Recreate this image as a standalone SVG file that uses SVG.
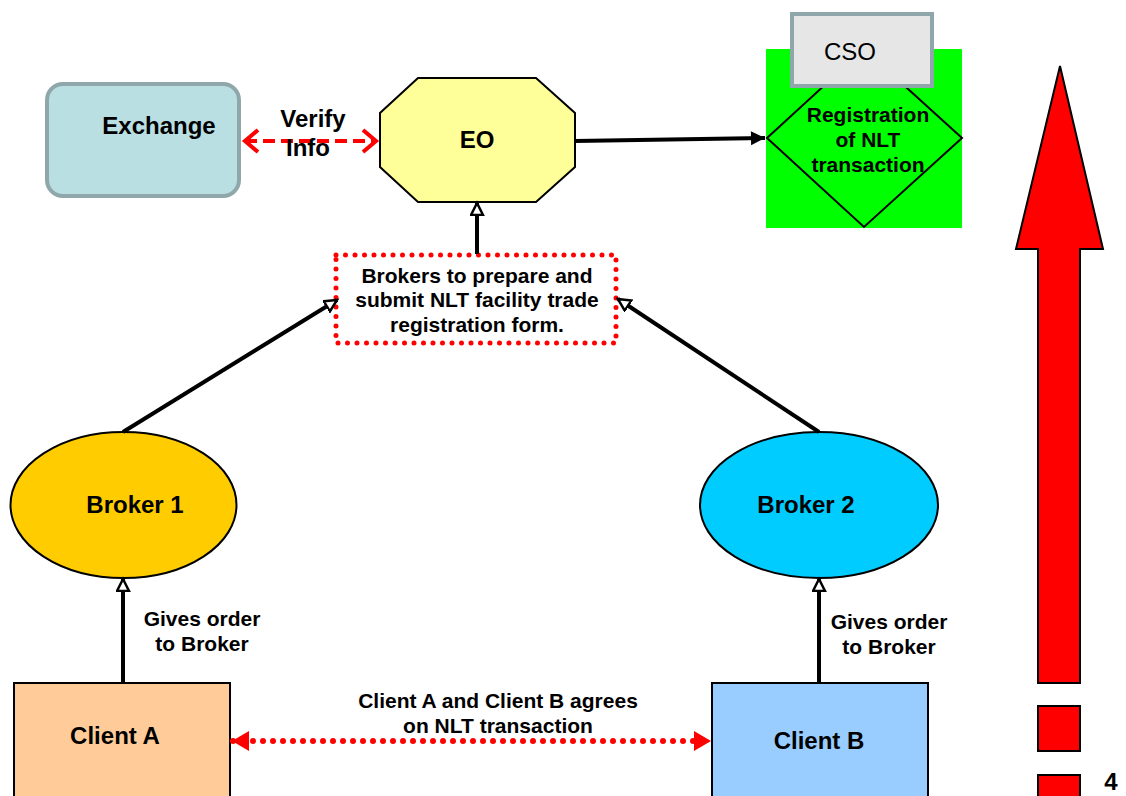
<svg xmlns="http://www.w3.org/2000/svg" width="1126" height="796" viewBox="0 0 1126 796">
<style>
text{font-family:"Liberation Sans",Arial,sans-serif;font-weight:bold;fill:#000;text-anchor:middle}
.big{font-size:24px}
.mid{font-size:21px}
.conn{stroke:#000;stroke-width:4;fill:none}
.shape{stroke:#000;stroke-width:2}
</style>
<defs>
<marker id="ah" markerUnits="userSpaceOnUse" markerWidth="16" markerHeight="16" refX="13" refY="7" orient="auto">
<path d="M1,1 L13,7 L1,13 Z" fill="#fff" stroke="#000" stroke-width="2.5"/>
</marker>
<marker id="ahf" markerUnits="userSpaceOnUse" markerWidth="18" markerHeight="16" refX="15" refY="8" orient="auto">
<path d="M1,1 L15,8 L1,15 Z" fill="#000"/>
</marker>
<marker id="rchev" markerUnits="userSpaceOnUse" markerWidth="20" markerHeight="26" refX="16" refY="13" orient="auto-start-reverse">
<path d="M3,2 L16,13 L3,24" fill="none" stroke="#f00" stroke-width="4"/>
</marker>
<marker id="rtri" markerUnits="userSpaceOnUse" markerWidth="20" markerHeight="22" refX="17" refY="11" orient="auto-start-reverse">
<path d="M1,1 L18,11 L1,21 Z" fill="#f00"/>
</marker>
</defs>

<g id="exchange">
<rect x="47" y="84" width="192" height="112" rx="16" fill="#b9dfe3" stroke="#8fa7aa" stroke-width="4"/>
<text class="big" x="159" y="134">Exchange</text>
</g>

<g id="eo">
<polygon points="418,78 536,78 575,113 575,167 536,202 418,202 380,167 380,113" fill="#ffff99" class="shape"/>
<text class="big" x="477" y="148">EO</text>
</g>

<g id="registration">
<rect x="766" y="49" width="196" height="179" fill="#00ff00"/>
<polygon points="864,49 962,138 864,227 767,138" fill="none" class="shape"/>
<text class="mid" x="868" y="122">Registration</text>
<text class="mid" x="868" y="147">of NLT</text>
<text class="mid" x="868" y="172">transaction</text>
</g>

<g id="cso">
<rect x="792" y="14" width="140" height="72" fill="#e6e6e6" stroke="#8fa7aa" stroke-width="4"/>
<text x="850" y="60" style="font-size:24px;font-weight:normal">CSO</text>
</g>

<g id="form">
<rect x="336" y="255" width="280" height="88" fill="#fff" stroke="#f00" stroke-width="5" stroke-dasharray="0 9.5" stroke-linecap="round"/>
<text class="mid" x="477" y="283">Brokers to prepare and</text>
<text class="mid" x="477" y="307">submit NLT facility trade</text>
<text class="mid" x="477" y="332">registration form.</text>
</g>

<g id="broker1">
<ellipse cx="123.5" cy="505" rx="113" ry="73" fill="#ffcc00" class="shape"/>
<text class="big" x="135" y="513">Broker 1</text>
</g>

<g id="broker2">
<ellipse cx="819" cy="505" rx="119" ry="73" fill="#00ccff" class="shape"/>
<text class="big" x="806" y="513">Broker 2</text>
</g>

<g id="clientA">
<rect x="14" y="683" width="216" height="120" fill="#ffcc99" class="shape"/>
<text class="big" x="115" y="744">Client A</text>
</g>

<g id="clientB">
<rect x="712" y="683" width="216" height="120" fill="#99ccff" class="shape"/>
<text class="big" x="819" y="749">Client B</text>
</g>

<g id="bigarrow">
<polygon points="1060,66 1103,249 1080,249 1080,683 1038,683 1038,249 1016,249" fill="#f00" stroke="#000" stroke-width="2"/>
<rect x="1038" y="706" width="42" height="45" fill="#f00" stroke="#000" stroke-width="2"/>
<rect x="1038" y="775" width="42" height="30" fill="#f00" stroke="#000" stroke-width="2"/>
<text class="big" x="1111" y="790">4</text>
</g>

<g id="connectors">
<line x1="245" y1="141" x2="376" y2="141" stroke="#f00" stroke-width="4" stroke-dasharray="12 6" marker-start="url(#rchev)" marker-end="url(#rchev)"/>
<line class="conn" x1="575" y1="141" x2="765" y2="138" marker-end="url(#ahf)"/>
<line class="conn" x1="477" y1="254" x2="477" y2="203" marker-end="url(#ah)"/>
<line class="conn" x1="123" y1="432" x2="337" y2="300" marker-end="url(#ah)"/>
<line class="conn" x1="819" y1="432" x2="618" y2="299" marker-end="url(#ah)"/>
<line class="conn" x1="123" y1="683" x2="123" y2="579" marker-end="url(#ah)"/>
<line class="conn" x1="819" y1="683" x2="819" y2="579" marker-end="url(#ah)"/>
<line x1="233" y1="741" x2="710" y2="741" stroke="#f00" stroke-width="6" stroke-dasharray="0 10" stroke-linecap="round" marker-start="url(#rtri)" marker-end="url(#rtri)"/>
</g>

<g id="labels">
<text class="big" x="313" y="127">Verify</text>
<text class="big" x="308" y="156">Info</text>
<text class="mid" x="202" y="626">Gives order</text>
<text class="mid" x="202" y="651">to Broker</text>
<text class="mid" x="889" y="629">Gives order</text>
<text class="mid" x="889" y="654">to Broker</text>
<text class="mid" x="498" y="708">Client A and Client B agrees</text>
<text class="mid" x="498" y="733">on NLT transaction</text>
</g>
</svg>
